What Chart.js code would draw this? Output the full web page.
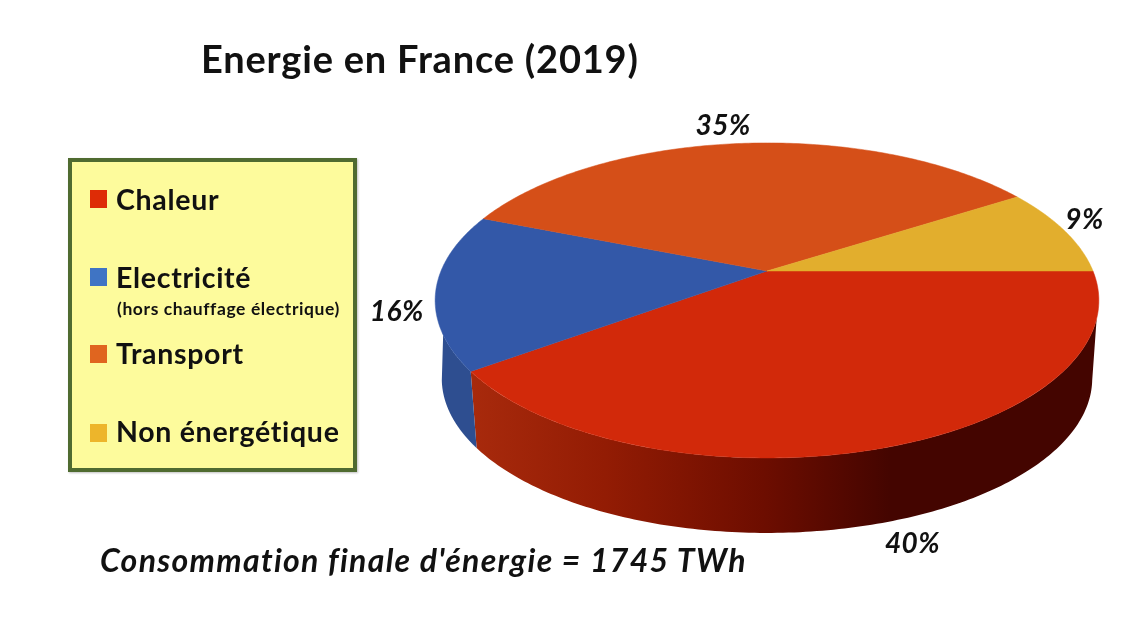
<!DOCTYPE html>
<html lang="fr">
<head>
<meta charset="utf-8">
<title>Energie en France (2019)</title>
<script src="https://cdn.jsdelivr.net/npm/chart.js@4/dist/chart.umd.js"></script>
<style>
  html, body { margin: 0; padding: 0; background: #fff; }
  body { width: 1137px; height: 637px; position: relative; overflow: hidden; font-family: Lato, sans-serif; color: #111; }
  #pie { position: absolute; left: 0; top: 0; }
  .txt { position: absolute; white-space: nowrap; line-height: 1; }
  #title { left: 201px; top: 39px; font-size: 38px; font-weight: 700; letter-spacing: 0.8px; }
  #note { left: 100px; top: 544px; font-size: 32px; font-weight: 700; font-style: italic; letter-spacing: 1.3px; }
  #box { position: absolute; left: 68px; top: 158px; width: 281px; height: 306px; background: #fdfb9c; border: 4px solid #4f6b30; box-shadow: 1px 1px 2px rgba(0,0,0,.25); }
  .swatch { position: absolute; left: 90px; width: 17px; height: 18px; }
  .lbl { left: 116px; font-size: 28.5px; font-weight: 700; letter-spacing: 0.7px; }
  #sub { left: 117px; top: 300px; font-size: 17.5px; font-weight: 700; letter-spacing: 0.6px; }
</style>
</head>
<body>
<canvas id="pie" width="1137" height="637"></canvas>
<div class="txt" id="title">Energie en France (2019)</div>
<div id="box"></div>
<div class="txt" id="sub">(hors chauffage électrique)</div>
<div class="txt" id="note">Consommation finale d'énergie = 1745 TWh</div>
<script>
const categories = ['Chaleur', 'Electricité', 'Transport', 'Non énergétique'];
const shares = [40, 16, 35, 9];
const topColors = ['#d2290a', '#3358a8', '#d54f18', '#e2ae2d'];
const legendColors = ['#de2c06', '#3f74c4', '#e0651f', '#edb52b'];

// where each legend row sits and how far each % label moves off the rim
const legendTops = [185, 263, 339, 417];
const swatchTops = [190, 268, 345, 424];
const labelNudge = [[23, 97], [-39, 21], [-18, -17], [20, -11]];

// perspective of the disc: near side is bigger, so the apex is above the ellipse centre
const persp = -0.187;
const xScale = 326;
const yScale = 152;
const depth = 78.7;
const bottomShrink = 0.98;

categories.forEach((name, i) => {
  const row = document.createElement('div');
  row.className = 'txt lbl';
  row.style.top = legendTops[i] + 'px';
  row.textContent = name;
  document.body.appendChild(row);
  const sw = document.createElement('div');
  sw.className = 'swatch';
  sw.style.top = swatchTops[i] + 'px';
  sw.style.background = legendColors[i];
  document.body.appendChild(sw);
});

const project = (arc, theta, bottom) => {
  const u = Math.cos(theta);
  const v = Math.sin(theta);
  const den = 1 + persp * v;
  const k = bottom ? bottomShrink : 1;
  return {
    x: arc.x + k * xScale * u / den,
    y: arc.y + (bottom ? depth : 0) + k * yScale * v / den
  };
};

const rimPoints = (arc, from, to, bottom) => {
  const steps = 160;
  const pts = [];
  for (let i = 0; i <= steps; i++) {
    pts.push(project(arc, from + (to - from) * i / steps, bottom));
  }
  return pts;
};

// draws the library's arcs through the projection above
const tiltedPie = {
  id: 'tiltedPie',
  beforeDatasetDraw(chart, args) {
    const ctx = chart.ctx;
    const arcs = args.meta.data;

    const redSide = ctx.createLinearGradient(470, 0, 890, 0);
    redSide.addColorStop(0, '#a82a0c');
    redSide.addColorStop(0.32, '#931c04');
    redSide.addColorStop(0.7, '#6d0d00');
    redSide.addColorStop(1, '#440500');
    const sideFills = [redSide, '#2e4e90'];

    arcs.forEach((arc, i) => {
      const mid = (arc.startAngle + arc.endAngle) / 2;
      if (Math.sin(mid) < 0) return;
      // the wall's outline leaves the top rim a bit before the bottom rim's widest point
      const top = rimPoints(arc, Math.max(arc.startAngle, 0.3), Math.min(arc.endAngle, Math.PI - 0.4), false);
      const low = rimPoints(arc, Math.max(arc.startAngle, 0.2), Math.min(arc.endAngle, Math.PI - 0.2), true).reverse();
      ctx.beginPath();
      top.concat(low).forEach((p, n) => n ? ctx.lineTo(p.x, p.y) : ctx.moveTo(p.x, p.y));
      ctx.closePath();
      ctx.fillStyle = sideFills[i];
      ctx.fill();
    });

    arcs.forEach((arc, i) => {
      ctx.beginPath();
      ctx.moveTo(arc.x, arc.y);
      rimPoints(arc, arc.startAngle, arc.endAngle, false).forEach(p => ctx.lineTo(p.x, p.y));
      ctx.closePath();
      ctx.fillStyle = topColors[i];
      ctx.fill();
      ctx.strokeStyle = topColors[i];
      ctx.lineWidth = 0.5;
      ctx.stroke();
    });

    ctx.save();
    ctx.fillStyle = '#111';
    ctx.font = 'italic 700 28px Lato, sans-serif';
    ctx.letterSpacing = '0.5px';
    ctx.textAlign = 'center';
    ctx.textBaseline = 'middle';
    arcs.forEach((arc, i) => {
      const p = project(arc, (arc.startAngle + arc.endAngle) / 2, false);
      ctx.fillText(shares[i] + '%', p.x + labelNudge[i][0], p.y + labelNudge[i][1]);
    });
    ctx.restore();
    return false;
  }
};

new Chart(document.getElementById('pie'), {
  type: 'pie',
  data: {
    labels: categories,
    datasets: [{ data: shares, backgroundColor: topColors, borderWidth: 0 }]
  },
  options: {
    responsive: false,
    animation: false,
    rotation: 90,
    // padding puts the pie's centre on the apex at 767,271
    layout: { padding: { left: 397, bottom: 95 } },
    plugins: { legend: { display: false }, tooltip: { enabled: false } }
  },
  plugins: [tiltedPie]
});
</script>
</body>
</html>
